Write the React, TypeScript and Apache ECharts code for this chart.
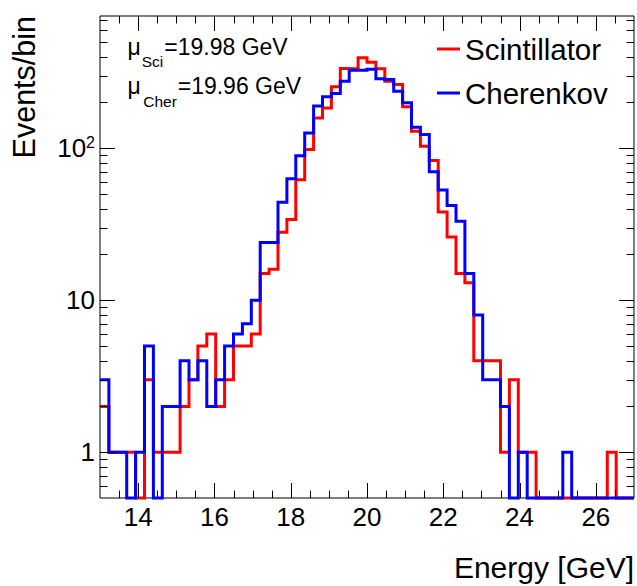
import React, { useEffect, useRef } from "react";
import * as echarts from "echarts";

// ---- data -------------------------------------------------------------
const X_MIN = 13;
const X_MAX = 27;
const N_BINS = 60;
const Y_MIN = 0.5;
const Y_MAX = 740;

const scintillator = [
  2, 1, 1, 1, 0, 3, 1, 1, 1, 2,
  3, 5, 6, 2, 3, 5, 5, 6, 15, 16,
  28, 34, 62, 98, 158, 184, 253, 334, 333, 393,
  368, 333, 275, 262, 187, 129, 103, 83, 38, 26,
  15, 13, 4, 4, 4, 1, 3, 1, 1, 0,
  0, 0, 0, 0, 0, 0, 0, 1, 0, 0,
];
const cherenkov = [
  3, 1, 1, 0, 1, 5, 0, 2, 2, 4,
  3, 4, 2, 3, 5, 6, 7, 10, 24, 24,
  44, 63, 89, 126, 189, 218, 229, 275, 326, 326,
  330, 286, 283, 237, 199, 137, 123, 70, 53, 42,
  33, 15, 8, 3, 3, 2, 0, 1, 0, 0,
  0, 0, 1, 0, 0, 0, 0, 0, 0, 0,
];

const xMajorTicks = [14, 16, 18, 20, 22, 24, 26];
const xMinorTicks = [
  13.5, 14.5, 15, 15.5, 16.5, 17, 17.5, 18.5, 19, 19.5, 20.5, 21, 21.5,
  22.5, 23, 23.5, 24.5, 25, 25.5, 26.5,
];
const yMajorTicks = [1, 10, 100];
const yMinorTicks = [
  0.6, 0.7, 0.8, 0.9, 2, 3, 4, 5, 6, 7, 8, 9, 20, 30, 40, 50, 60, 70, 80, 90,
  200, 300, 400, 500, 600, 700,
];

const meanSci = "19.98";
const meanCher = "19.96";

const FONT = "'Liberation Sans', Arial, Helvetica, sans-serif";

// ---- helpers ----------------------------------------------------------
const binWidth = (X_MAX - X_MIN) / N_BINS;

function histSeries(name: string, values: number[], color: string) {
  return {
    type: "custom",
    name,
    coordinateSystem: "cartesian2d",
    silent: true,
    z: 3,
    data: values.map((v, i) => [X_MIN + (i + 0.5) * binWidth, v]),
    renderItem: (params: any, api: any) => {
      if (params.dataIndex !== 0) return null;
      const pts: number[][] = [];
      for (let i = 0; i < values.length; i++) {
        const lo = X_MIN + i * binWidth;
        const hi = lo + binWidth;
        const v = Math.max(values[i], Y_MIN);
        pts.push(api.coord([lo, v]));
        pts.push(api.coord([hi, v]));
      }
      return {
        type: "polyline",
        shape: { points: pts },
        style: { stroke: color, lineWidth: 3, fill: null, lineJoin: "miter" },
      };
    },
  };
}

function xTickSeries(ticks: number[], len: number) {
  return {
    type: "custom",
    silent: true,
    z: 4,
    data: ticks.map((v) => [v, 1]),
    renderItem: (params: any, api: any) => {
      const v = api.value(0);
      const b = api.coord([v, Y_MIN]);
      const t = api.coord([v, Y_MAX]);
      const x = Math.round(b[0]) + 0.5;
      return {
        type: "group",
        children: [
          { type: "line", shape: { x1: x, y1: b[1], x2: x, y2: b[1] - len }, style: { stroke: "#000", lineWidth: 1 } },
          { type: "line", shape: { x1: x, y1: t[1], x2: x, y2: t[1] + len }, style: { stroke: "#000", lineWidth: 1 } },
        ],
      };
    },
  };
}

function yTickSeries(ticks: number[], len: number) {
  return {
    type: "custom",
    silent: true,
    z: 4,
    data: ticks.map((v) => [20, v]),
    renderItem: (params: any, api: any) => {
      const v = api.value(1);
      const l = api.coord([X_MIN, v]);
      const r = api.coord([X_MAX, v]);
      const y = Math.round(l[1]) + 0.5;
      return {
        type: "group",
        children: [
          { type: "line", shape: { x1: l[0], y1: y, x2: l[0] + len, y2: y }, style: { stroke: "#000", lineWidth: 1 } },
          { type: "line", shape: { x1: r[0], y1: y, x2: r[0] - len, y2: y }, style: { stroke: "#000", lineWidth: 1 } },
        ],
      };
    },
  };
}

function txt(text: string, x: number, y: number, size: number) {
  return {
    type: "text",
    x,
    y,
    silent: true,
    style: {
      text,
      fill: "#000",
      fontSize: size,
      fontFamily: FONT,
      align: "left",
      verticalAlign: "middle",
    },
  };
}

export default function App() {
  const ref = useRef<HTMLDivElement>(null);

  useEffect(() => {
    document.body.style.margin = "0";
    const chart = echarts.init(ref.current!, undefined, { renderer: "svg" });
    chart.setOption({
      animation: false,
      backgroundColor: "#fff",
      textStyle: { fontFamily: FONT },
      grid: {
        left: 100,
        top: 16,
        width: 534,
        height: 482,
        show: true,
        borderColor: "#000",
        borderWidth: 1,
        backgroundColor: "transparent",
      },
      legend: {
        orient: "vertical",
        left: 437,
        top: 34,
        padding: 0,
        itemWidth: 23,
        itemHeight: 3,
        itemGap: 14,
        icon: "rect",
        selectedMode: false,
        textStyle: { fontSize: 29.5, color: "#000", fontFamily: FONT },
        data: [
          { name: "Scintillator", itemStyle: { color: "#ff0000" } },
          { name: "Cherenkov", itemStyle: { color: "#0000ff" } },
        ],
      },
      xAxis: {
        type: "value",
        min: X_MIN,
        max: X_MAX,
        interval: 1,
        axisLine: { show: false },
        axisTick: { show: false },
        splitLine: { show: false },
        axisLabel: {
          color: "#000",
          fontSize: 26,
          fontFamily: FONT,
          margin: 6,
          formatter: (v: number) => (xMajorTicks.indexOf(v) >= 0 ? String(v) : ""),
        },
        name: "Energy [GeV]",
        nameLocation: "end",
        nameGap: 0,
        nameMoveOverlap: false,
        nameTextStyle: {
          color: "#000",
          fontSize: 30,
          fontFamily: FONT,
          align: "right",
          verticalAlign: "top",
          padding: [54, 0, 0, 0],
        },
      },
      yAxis: {
        type: "log",
        logBase: 10,
        min: Y_MIN,
        max: Y_MAX,
        axisLine: { show: false },
        axisTick: { show: false },
        splitLine: { show: false },
        axisLabel: {
          color: "#000",
          fontSize: 26,
          fontFamily: FONT,
          margin: 5,
          formatter: (v: number) => {
            const e = Math.log10(v);
            const k = Math.round(e);
            if (Math.abs(e - k) > 1e-6 || yMajorTicks.indexOf(Math.pow(10, k)) < 0) return "";
            if (k === 0) return "1";
            if (k === 1) return "10";
            return "10{sup|" + k + "}";
          },
          rich: {
            sup: { fontSize: 16, fontFamily: FONT, color: "#000", padding: [0, 0, 11, 0] },
          },
        },
        name: "Events/bin",
        nameLocation: "end",
        nameRotate: 90,
        nameGap: 0,
        nameMoveOverlap: false,
        nameTextStyle: {
          color: "#000",
          fontSize: 30.5,
          fontFamily: FONT,
          align: "right",
          verticalAlign: "bottom",
          padding: [0, 0, 61, 0],
        },
      },
      graphic: [
        txt("\u03bc", 127.5, 46.5, 23),
        txt("Sci", 141.7, 61.3, 15.5),
        txt("=" + meanSci + " GeV", 164.3, 46.5, 23),
        txt("\u03bc", 127.5, 85.5, 23),
        txt("Cher", 143.3, 101.3, 15.5),
        txt("=" + meanCher + " GeV", 177.7, 85.5, 23),
      ],
      series: [
        histSeries("Scintillator", scintillator, "#ff0000"),
        histSeries("Cherenkov", cherenkov, "#0000ff"),
        xTickSeries(xMajorTicks, 15),
        xTickSeries(xMinorTicks, 7.5),
        yTickSeries(yMajorTicks, 15),
        yTickSeries(yMinorTicks, 7.5),
      ],
    });
    return () => chart.dispose();
  }, []);

  return (
    <div
      ref={ref}
      style={{ position: "absolute", left: 0, top: 0, width: 637, height: 586 }}
    />
  );
}
